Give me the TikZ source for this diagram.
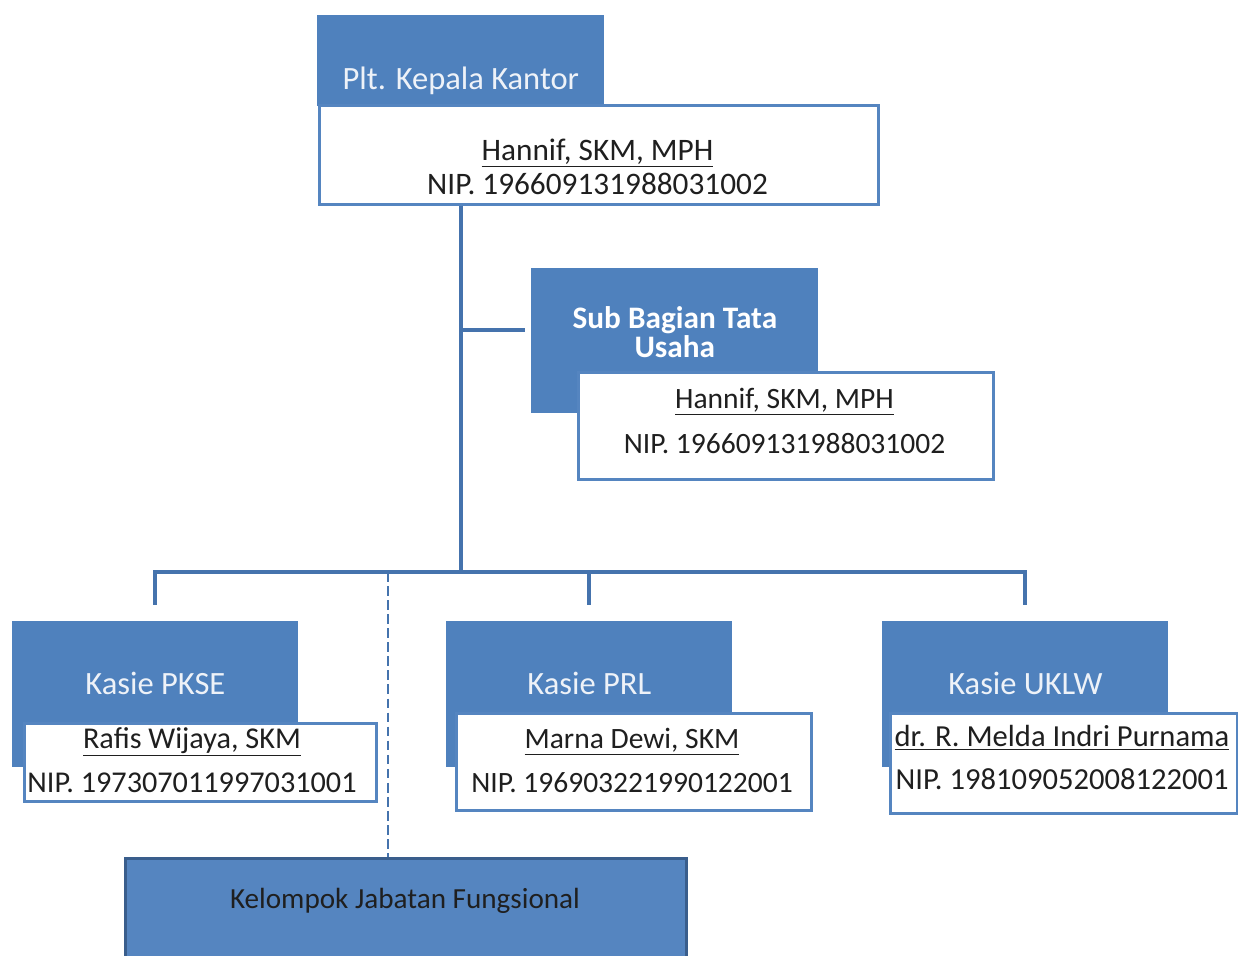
\documentclass[tikz,border=0pt]{standalone}
\usepackage{fontspec}
\setmainfont{Carlito}
\usepackage{tikz}
\definecolor{smartblue}{HTML}{4F81BD}
\definecolor{linkblue}{HTML}{4573AD}
\definecolor{boxline}{HTML}{5585C0}
\definecolor{darkrim}{HTML}{3A5E8C}
\definecolor{groupblue}{HTML}{5585C0}
\definecolor{paletext}{HTML}{EEF2F8}
\tikzstyle{headbox} = [rectangle, anchor=north west, inner sep=0pt, fill=smartblue]
\tikzstyle{namebox} = [rectangle, anchor=north west, inner sep=0pt, fill=white, draw=boxline, line width=1.7pt]
\tikzstyle{groupbox} = [rectangle, anchor=north west, inner sep=0pt, fill=groupblue, draw=darkrim, line width=1.7pt]
\tikzstyle{headtext} = [anchor=base, inner sep=0pt, text=paletext, font=\fontsize{18.5}{18.5}\selectfont]
\tikzstyle{nametext} = [anchor=base, inner sep=0pt, align=center, text=black!88]
\tikzstyle{link} = [draw=linkblue, line width=2.2pt]
\tikzstyle{dashlink} = [draw=linkblue, line width=1.7pt, dash pattern=on 5.5pt off 2.5pt]

\begin{document}
\begin{tikzpicture}
	\useasboundingbox (0,0) rectangle (24.76,-19.12);
	\fill [white] (0,0) rectangle (24.76,-19.12);

	% kepala kantor
	\node (kepala) [headbox, minimum width=5.74cm, minimum height=1.82cm] at (6.34,-0.30) {};
	\node (kepalaN) [namebox, minimum width=11.18cm, minimum height=1.98cm] at (6.36,-2.08) {};
	\node (kepalaT) [headtext] at ([yshift=0.34cm]kepala.south) {Plt. Kepala Kantor};
	\node (kepalaNama) [nametext, font=\fontsize{17.8}{19.8}\selectfont] at (11.95,-3.90) {\underline{Hannif, SKM, MPH}\\NIP. 196609131988031002};

	% sub bagian tata usaha
	\node (tatausaha) [headbox, minimum width=5.74cm, minimum height=2.90cm] at (10.62,-5.36) {};
	\node (tatausahaN) [namebox, minimum width=8.30cm, minimum height=2.14cm] at (11.54,-7.42) {};
	\node (tatausahaT) [headtext, align=center, text=white, font=\bfseries\fontsize{17.8}{14.2}\selectfont] at ([yshift=-1.80cm]tatausaha.north) {Sub Bagian Tata\\Usaha};
	\node (tatausahaNama) [nametext, font=\fontsize{16.8}{26}\selectfont] at (15.69,-9.08) {\underline{Hannif, SKM, MPH}\\NIP. 196609131988031002};

	% kasie
	\node (pkse) [headbox, minimum width=5.72cm, minimum height=2.92cm] at (0.24,-12.42) {};
	\node (prl) [headbox, minimum width=5.72cm, minimum height=2.92cm] at (8.92,-12.42) {};
	\node (uklw) [headbox, minimum width=5.72cm, minimum height=2.92cm] at (17.64,-12.42) {};
	\node (pkseN) [namebox, minimum width=7.04cm, minimum height=1.56cm] at (0.46,-14.44) {};
	\node (prlN) [namebox, minimum width=7.10cm, minimum height=1.94cm] at (9.10,-14.24) {};
	\node (uklwN) [namebox, minimum width=6.94cm, minimum height=2.00cm] at (17.78,-14.24) {};
	\node (pkseT) [headtext] at ([yshift=-1.48cm]pkse.north) {Kasie PKSE};
	\node (prlT) [headtext] at ([yshift=-1.48cm]prl.north) {Kasie PRL};
	\node (uklwT) [headtext] at ([yshift=-1.48cm]uklw.north) {Kasie UKLW};
	\node (pkseNama) [nametext, font=\fontsize{17.2}{25}\selectfont] at (3.84,-15.84) {\underline{Rafis Wijaya, SKM}\\NIP. 197307011997031001};
	\node (prlNama) [nametext, font=\fontsize{16.8}{25}\selectfont] at (12.64,-15.84) {\underline{Marna Dewi, SKM}\\NIP. 196903221990122001};
	\node (uklwNama) [nametext, font=\fontsize{17.4}{24}\selectfont] at (21.24,-15.78) {\underline{dr. R. Melda Indri Purnama}\\NIP. 198109052008122001};

	% jabatan fungsional
	\node (fungsional) [groupbox, minimum width=11.22cm, minimum height=2.6cm] at (2.48,-17.14) {};
	\node (fungsionalT) [nametext, font=\fontsize{16.6}{16.6}\selectfont] at (8.10,-18.16) {Kelompok Jabatan Fungsional};

	\coordinate (busL) at (3.10,-11.44);
	\coordinate (tuLink) at (10.50,-6.60);
	\coordinate (dashTop) at (7.76,-11.44);

	\draw [link] (kepalaN.south -| kepala.south) -- (kepala.south |- busL);
	\draw [link] (kepala.south |- tuLink) -- (tuLink);
	\draw [link] ([yshift=0.32cm]pkse.north) -- (pkse.north |- busL) -- (uklw.north |- busL) -- ([yshift=0.32cm]uklw.north);
	\draw [link] (prl.north |- busL) -- ([yshift=0.32cm]prl.north);
	\draw [dashlink] (dashTop) -- (dashTop |- fungsional.north);
\end{tikzpicture}
\end{document}
